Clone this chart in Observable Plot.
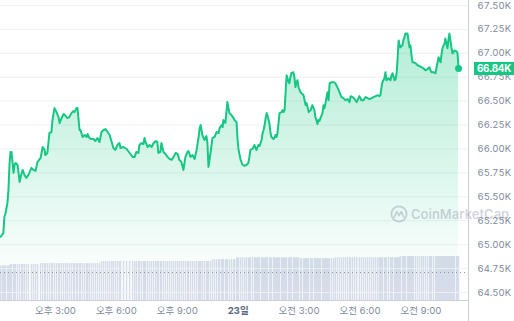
<!DOCTYPE html>
<html>
<head>
<meta charset="utf-8">
<script src="https://cdn.jsdelivr.net/npm/d3@7"></script>
<script src="https://cdn.jsdelivr.net/npm/@observablehq/plot@0.6"></script>
<style>
  html, body { margin: 0; padding: 0; background: #fff; }
  #wrap { position: relative; width: 514px; height: 321px; overflow: hidden; font-family: Inter, "Noto Sans CJK KR", sans-serif; }
  #wrap svg { position: absolute; left: 0; top: 0; }
  #tag { position: absolute; left: 474px; width: 40px; height: 13px; background: #16c784; color: #fff; font: 700 9.8px Inter, sans-serif; letter-spacing: -0.25px; line-height: 13px; padding-left: 3px; box-sizing: border-box; white-space: nowrap; }
  #axisExt { position: absolute; left: 468px; top: 300px; width: 1px; height: 21px; background: #c9ced8; }
  #wm { position: absolute; left: 390px; top: 205px; display: flex; align-items: center; gap: 3px; color: rgba(130,140,160,0.38); font: 600 13px Inter, sans-serif; pointer-events: none; }
</style>
</head>
<body>
<div id="wrap"></div>
<script>
// time: minutes after 22일 12:00 (KST); price: USD
const minutes = [
  18,23,26,29,32,38,41,44,
  47,50,56,59,62,68,74,80,83,88,94,100,109,115,121,127,
  136,142,148,150,156,162,168,171,177,183,189,192,198,204,210,215,221,227,233,236,242,245,251,254,260,266,272,275,280,286,292,298,304,310,
  316,322,328,334,340,346,351,357,363,369,372,381,390,399,408,414,419,425,428,434,440,443,446,452,458,464,470,476,481,484,490,493,499,505,511,517,523,529,535,541,546,552,558,564,570,573,579,585,591,597,603,606,609,614,620,626,629,632,638,
  644,650,656,662,665,671,674,676,682,685,688,694,700,706,709,
  715,718,721,727,733,739,744,750,753,756,762,768,771,774,777,780,783,789,792,795,798,801,804,806,812,815,818,824,827,830,833,836,839,842,848,851,854,857,860,863,869,871,874,877,883,886,889,892,895,898,
  904,907,913,916,919,922,925,928,934,937,939,945,948,951,954,957,960,963,969,972,975,978,981,984,987,990,996,1002,
  1007,1013,1019,1025,1031,1037,1043,1049,1052,1058,1064,1070,1078,1084,1090,1096,1102,1108,1114,1120,1126,1132,1137,1140,1143,1146,1152,1155,1158,1164,1170,1173,1176,1182,1185,1188,1191,1194,1197,
  1199,1205,1208,1211,1214,1220,1223,1226,1229,1232,1235,1238,1244,1250,1256,1262,1267,1273,1279,1285,1288,1291,1297,1303,1306,1309,1312,1315,1318,1321,1324,1327,1330,1332,1335,1338,1341,1344,1347,1350,1353,1356,1359,1365,1368,1371
];
const prices = [
  65083,65104,65125,65292,65323,65437,65573,65833,
  65969,65969,65750,65833,65854,65833,65656,65750,65781,65729,65698,65729,65802,65781,65771,65865,
  65906,66021,65990,65937,65958,66167,66177,66302,66427,66385,66333,66271,66323,66365,66344,66323,66333,66375,66396,66385,66427,66427,66198,66198,66125,66146,66125,66156,66115,66104,66104,66083,66115,66073,
  66177,66198,66208,66177,66146,66073,66010,65990,66042,66062,66010,66021,66000,65958,65917,65917,65969,65958,66042,66062,66052,66115,66073,66021,66042,66021,66062,66083,66073,65958,65969,66062,65969,65948,65917,65896,65885,65917,65958,65948,65885,65865,65781,65917,65969,65979,65917,65937,65896,65990,66125,66219,66250,66146,66094,66135,66062,65812,65958,
  66115,66125,66177,66167,66219,66250,66229,66302,66271,66385,66490,66375,66354,66323,66302,
  66281,66094,65990,65885,65833,65823,65833,65854,65917,65990,66000,66042,66010,65990,66021,66042,66031,66094,66167,66198,66250,66323,66375,66354,66271,66177,66125,66104,66115,66146,66125,66167,66271,66375,66385,66406,66385,66406,66594,66771,66698,66687,66750,66792,66802,66750,66646,66698,66719,66646,
  66594,66583,66562,66510,66458,66479,66437,66385,66406,66437,66458,66406,66333,66302,66260,66302,66292,66323,66375,66458,66427,66479,66542,66594,66510,66687,66698,66698,
  66687,66646,66594,66542,66531,66510,66521,66490,66552,66542,66521,66490,66552,66510,66510,66542,66531,66521,66531,66542,66552,66562,66552,66562,66635,66698,66740,66802,66719,66740,66719,66771,66792,66719,66729,66792,66948,67135,67083,
  67062,67083,67135,67167,67208,67208,67135,67062,67083,66979,66906,66906,66896,66875,66865,66854,66844,66823,66833,66854,66823,66802,66802,66792,66854,66906,66958,66927,66906,67000,67062,67083,67104,67156,67104,67052,67135,67208,67135,67062,67000,67010,67031,67021,67000,66840
];
// 24h volume (billions USD) at each timestamp
const volumes = [
  26.6,26.6,26.6,26.6,26.6,26.6,26.6,26.6,
  27.7,27.7,27.7,27.7,27.7,27.7,27.7,27.7,27.7,27.7,27.7,27.7,27.7,27.7,27.7,27.7,
  28.4,28.4,28.4,28.4,28.4,28.4,28.4,28.4,28.4,28.4,28.4,28.4,28.4,28.4,28.4,28.4,28.4,28.4,28.4,28.4,28.4,28.4,28.4,28.4,28.4,28.4,28.4,28.4,28.4,28.4,28.4,28.4,28.4,28.4,
  30.0,30.0,30.0,30.0,30.0,30.0,30.0,30.0,30.0,30.0,30.0,30.0,30.0,30.0,30.0,30.0,30.0,30.0,30.0,30.0,30.0,30.0,30.0,30.0,30.0,30.0,30.0,30.0,30.0,30.0,30.0,30.0,30.0,30.0,30.0,30.0,30.0,30.0,30.0,30.0,30.0,30.0,30.0,30.0,30.0,30.0,30.0,30.0,30.0,30.0,30.0,30.0,30.0,30.0,30.0,30.0,30.0,30.0,30.0,
  31.4,31.4,31.4,31.4,31.4,31.4,31.4,31.4,31.4,31.4,31.4,31.4,31.4,31.4,31.4,
  32.8,32.8,32.8,32.8,32.8,32.8,32.8,32.8,32.8,32.8,32.8,32.8,32.8,32.8,32.8,32.8,32.8,32.8,32.8,32.8,32.8,32.8,32.8,32.8,32.8,32.8,32.8,32.8,32.8,32.8,32.8,32.8,32.8,32.8,32.8,32.8,32.8,32.8,32.8,32.8,32.8,32.8,32.8,32.8,32.8,32.8,32.8,32.8,32.8,32.8,
  32.2,32.2,32.2,32.2,32.2,32.2,32.2,32.2,32.2,32.2,32.2,32.2,32.2,32.2,32.2,32.2,32.2,32.2,32.2,32.2,32.2,32.2,32.2,32.2,32.2,32.2,32.2,32.2,
  32.9,32.9,32.9,32.9,32.9,32.9,32.9,32.9,32.9,32.9,32.9,32.9,32.9,32.9,32.9,32.9,32.9,32.9,32.9,32.9,32.9,32.9,32.9,32.9,32.9,32.9,32.9,32.9,32.9,32.9,32.9,32.9,32.9,32.9,32.9,32.9,32.9,32.9,32.9,
  33.8,33.8,33.8,33.8,33.8,33.8,33.8,33.8,33.8,33.8,33.8,33.8,33.8,33.8,33.8,33.8,33.8,33.8,33.8,33.8,33.8,33.8,33.8,33.8,33.8,33.8,33.8,33.8,33.8,33.8,33.8,33.8,33.8,33.8,33.8,33.8,33.8,33.8,33.8,33.8,33.8,33.8,33.8,33.8,33.8,33.8
];
const volumeGuide = [21.5];
const yTicks = [64500, 64750, 65000, 65250, 65500, 65750, 66000, 66250, 66500, 66750, 67000, 67250, 67500];
const xTicks = [180, 360, 540, 900, 1080, 1260];
const xTickLabels = ["오후 3:00", "오후 6:00", "오후 9:00", "오전 3:00", "오전 6:00", "오전 9:00"];
const dayTicks = [720];
const dayTickLabels = ["23일"];
const lastLabel = "66.84K";

const xDomain = [17.5, 1400.4];
const yDomain = [64416, 67552];

const data = minutes.map((t, i) => ({t, p: prices[i], v: volumes[i]}));
const last = data[data.length - 1];

const common = {
  width: 514, height: 321,
  marginTop: 0, marginBottom: 21, marginLeft: 0, marginRight: 46,
  style: {background: "transparent", fontFamily: 'Inter, "Noto Sans CJK KR", sans-serif', overflow: "visible"}
};

const volPlot = Plot.plot({
  ...common,
  x: {domain: xDomain, axis: null},
  y: {domain: [0, 100], range: [300, 170], axis: null},
  marks: [
    Plot.ruleX(data, {x: "t", y1: 0, y2: "v", stroke: "#d8dcea", strokeWidth: 1.4}),
    Plot.ruleY(volumeGuide, {stroke: "#8f97a8", strokeWidth: 1, strokeDasharray: "1,3"})
  ]
});

const mainPlot = Plot.plot({
  ...common,
  x: {domain: xDomain},
  y: {domain: yDomain},
  marks: [
    Plot.ruleY(yTicks, {stroke: "#eef1f5", strokeWidth: 1}),
    Plot.areaY(data, {x: "t", y1: yDomain[0], y2: "p", fill: "url(#cmcGrad)", curve: "linear"}),
    Plot.lineY(data, {x: "t", y: "p", stroke: "#16c784", strokeWidth: 2, curve: "linear"}),
    Plot.dot([last], {x: "t", y: "p", r: 3.5, fill: "#16c784"}),
    Plot.ruleY([yDomain[0]], {stroke: "#c9ced8"}),
    Plot.ruleX([xDomain[1]], {stroke: "#c9ced8"}),
    Plot.axisY({anchor: "right", ticks: yTicks, tickFormat: d => (d / 1000).toFixed(2) + "K", tickSize: 0, tickPadding: 9, fontSize: 9.5, color: "#808a9d", label: null}),
    Plot.axisX({ticks: xTicks, tickFormat: d => xTickLabels[xTicks.indexOf(d)], tickSize: 0, tickPadding: 7, fontSize: 9.5, color: "#808a9d", label: null}),
    Plot.axisX({ticks: dayTicks, tickFormat: d => dayTickLabels[dayTicks.indexOf(d)], tickSize: 0, tickPadding: 7, fontSize: 9.5, fontWeight: "bold", color: "#58667e", label: null})
  ]
});

// gradient for the area
const svgSel = d3.select(mainPlot);
const defs = svgSel.insert("defs", ":first-child");
const grad = defs.append("linearGradient").attr("id", "cmcGrad").attr("x1", 0).attr("y1", 0).attr("x2", 0).attr("y2", 1);
grad.append("stop").attr("offset", "0%").attr("stop-color", "#16c784").attr("stop-opacity", 0.32);
grad.append("stop").attr("offset", "55%").attr("stop-color", "#16c784").attr("stop-opacity", 0.14);
grad.append("stop").attr("offset", "85%").attr("stop-color", "#16c784").attr("stop-opacity", 0.03);
grad.append("stop").attr("offset", "100%").attr("stop-color", "#16c784").attr("stop-opacity", 0);

const wrap = document.getElementById("wrap");
wrap.appendChild(volPlot);
wrap.appendChild(mainPlot);

const ext = document.createElement("div");
ext.id = "axisExt";
wrap.appendChild(ext);

// watermark
const wm = document.createElement("div");
wm.id = "wm";
wm.innerHTML = '<svg width="18" height="18" viewBox="0 0 18 18" style="position:static"><circle cx="9" cy="9" r="7.6" fill="none" stroke="rgba(130,140,160,0.38)" stroke-width="1.8"/><path d="M4.2 12 L6.8 6.6 L9 10.6 L11.2 6.6 L13.8 12" fill="none" stroke="rgba(130,140,160,0.38)" stroke-width="1.7" stroke-linejoin="round" stroke-linecap="round"/></svg><span>CoinMarketCap</span>';
wrap.appendChild(wm);

// price tag
const tag = document.createElement("div");
tag.id = "tag";
tag.textContent = lastLabel;
tag.style.top = (mainPlot.scale("y").apply(last.p) - 6.5) + "px";
wrap.appendChild(tag);
</script>
</body>
</html>
